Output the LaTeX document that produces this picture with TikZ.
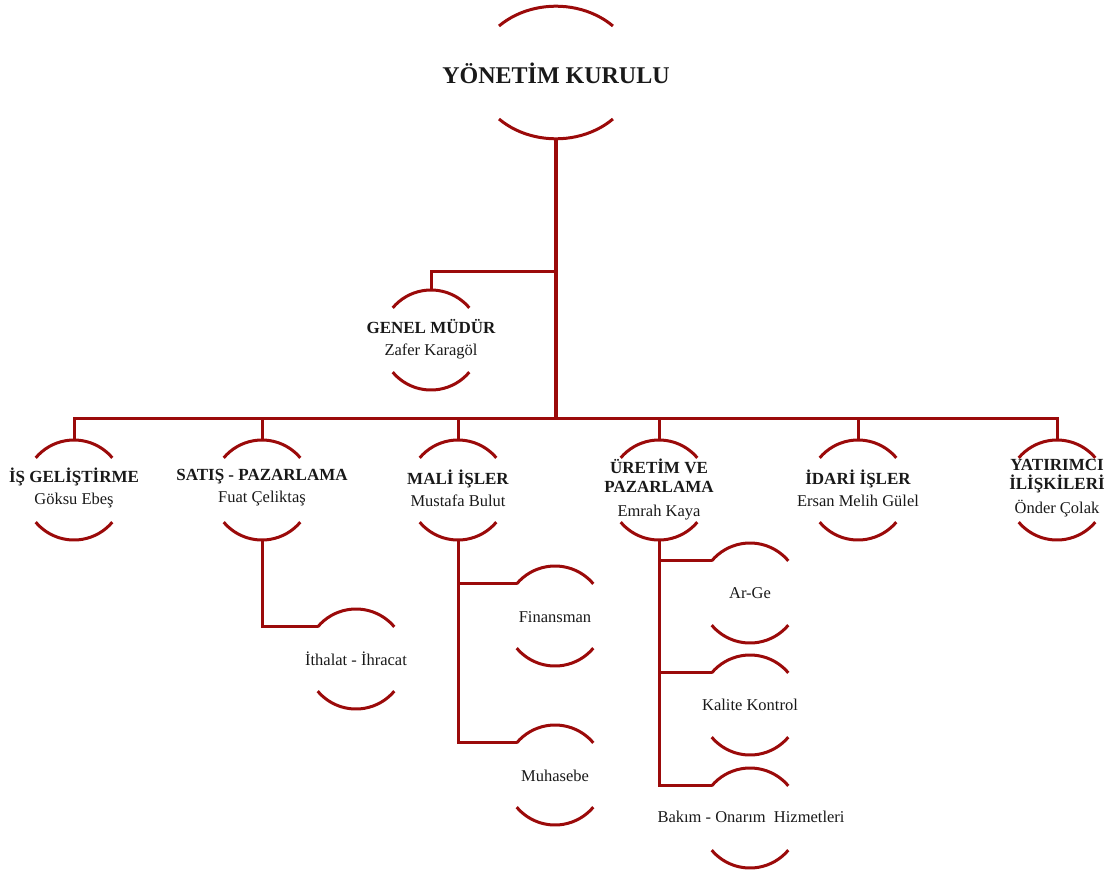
\documentclass[tikz,border=0pt]{standalone}
\usepackage{fontspec}
\setmainfont{Liberation Serif}
\definecolor{dred}{RGB}{155,10,10}
\definecolor{txtc}{RGB}{25,25,25}
\newcommand\ringarcs[1]{%
  \draw[lw] (#1.40) arc[start angle=40,end angle=140,radius=50pt];
  \draw[lw] (#1.220) arc[start angle=220,end angle=320,radius=50pt];}
\begin{document}
\begin{tikzpicture}[x=1pt,y=1pt,
  lw/.style={draw=dred,line width=3pt},
  conn/.style={draw=dred,line width=3pt},
  trunk/.style={draw=dred,line width=3.6pt},
  ring/.style={circle,minimum size=100pt,inner sep=0pt,outer sep=0pt},
  txt/.style={align=center,text=txtc,inner sep=0pt,font=\fontsize{16.5}{19}\selectfont},
  ttl/.style={font=\fontsize{17}{19}\selectfont\bfseries}]
\useasboundingbox (0,0) rectangle (1105,-870);

% top node
\node[circle,minimum size=133pt,inner sep=0pt,outer sep=0pt] (top) at (556,-72.5) {};
\draw[lw] ([shift={(-57,46.5)}]top.center) arc[start angle=135.4,end angle=44.6,x radius=80pt,y radius=66.5pt];
\draw[lw] ([shift={(-57,-46.5)}]top.center) arc[start angle=224.6,end angle=315.4,x radius=80pt,y radius=66.5pt];
\node[txt,font=\fontsize{24}{28}\selectfont\bfseries] (topt) at (556,-73) {YÖNETİM KURULU};

% genel mudur
\node[ring] (gm) at (431,-340) {};
\ringarcs{gm}
\node[txt] (gmt) at (431,-339) {{\fontsize{17}{19}\selectfont\bfseries GENEL MÜDÜR}\\[3pt]Zafer Karagöl};

% level 2
\node[ring] (is) at (74,-490) {};
\node[ring] (sp) at (262,-490) {};
\node[ring] (mi) at (458,-490) {};
\node[ring] (up) at (659,-490) {};
\node[ring] (ii) at (858,-490) {};
\node[ring] (yi) at (1057,-490) {};
\foreach \n in {is,sp,mi,up,ii,yi} {\ringarcs{\n}}
\node[txt] (ist) at (74,-488) {{\fontsize{17}{19}\selectfont\bfseries İŞ GELİŞTİRME}\\[3pt]Göksu Ebeş};
\node[txt] (spt) at (262,-488) {{\fontsize{17}{19}\selectfont\bfseries SATIŞ - PAZARLAMA}\\[3pt]Fuat Çeliktaş};
\node[txt] (mit) at (458,-488) {{\fontsize{17}{19}\selectfont\bfseries MALİ İŞLER}\\[3pt]Mustafa Bulut};
\node[txt] (upt) at (659,-489) {{\fontsize{17}{19}\selectfont\bfseries ÜRETİM VE}\\{\fontsize{17}{19}\selectfont\bfseries PAZARLAMA}\\[5pt]Emrah Kaya};
\node[txt] (iit) at (858,-488) {{\fontsize{17}{19}\selectfont\bfseries İDARİ İŞLER}\\[3pt]Ersan Melih Gülel};
\node[txt] (yit) at (1057,-488) {{\fontsize{17}{19}\selectfont\bfseries YATIRIMCI}\\{\fontsize{17}{19}\selectfont\bfseries İLİŞKİLERİ}\\[5pt]Önder Çolak};

% sub nodes
\node[ring] (ith) at (356,-659) {};
\node[ring] (fin) at (555,-616) {};
\node[ring] (muh) at (555,-775) {};
\node[ring] (arge) at (750,-593) {};
\node[ring] (kk) at (750,-705) {};
\node[ring] (bo) at (750,-818) {};
\foreach \n in {ith,fin,muh,arge,kk,bo} {\ringarcs{\n}}
\node[txt] (itht) at (356,-659) {İthalat - İhracat};
\node[txt] (fint) at (555,-617) {Finansman};
\node[txt] (muht) at (555,-776) {Muhasebe};
\node[txt] (arget) at (750,-593) {Ar-Ge};
\node[txt] (kkt) at (750,-705) {Kalite Kontrol};
\node[txt] (bot) at (751,-817) {Bakım - Onarım\ \ Hizmetleri};

% connectors
\coordinate (bar) at (556,-418);
\coordinate (gmj) at (556,-271);
\draw[trunk] (top.south) -- (bar);
\draw[conn] (gmj) -| (gm.north);
\foreach \n in {is,sp,mi,up,ii,yi} {\draw[conn] (bar) -| (\n.north);}
\draw[conn] (sp.south) |- (ith.140);
\draw[conn] (mi.south) |- (fin.140);
\draw[conn] (mi.south) |- (muh.140);
\draw[conn] (up.south) |- (arge.140);
\draw[conn] (up.south) |- (kk.140);
\draw[conn] (up.south) |- (bo.140);
\end{tikzpicture}
\end{document}
